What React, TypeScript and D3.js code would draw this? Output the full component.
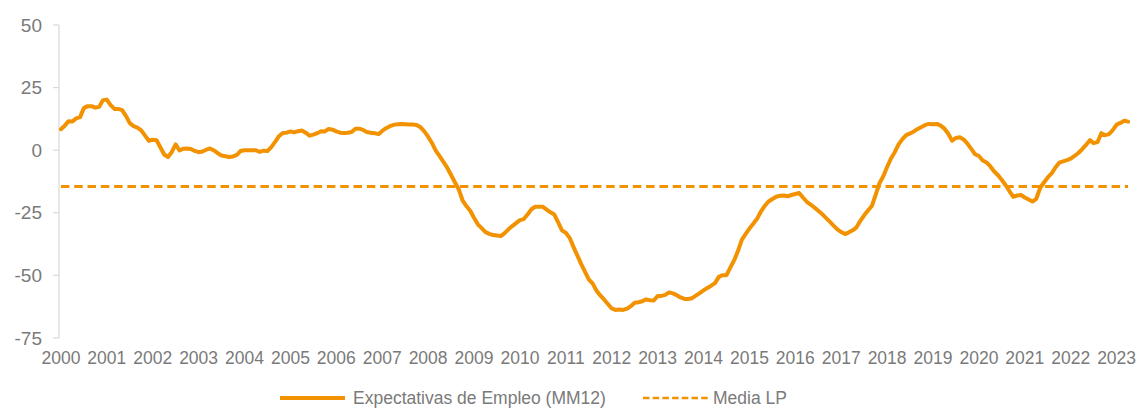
import React from "react";
import * as d3 from "d3";

const years: string[] = [
  "2000","2001","2002","2003","2004","2005","2006","2007","2008","2009","2010","2011",
  "2012","2013","2014","2015","2016","2017","2018","2019","2020","2021","2022","2023",
];

const yTicks: number[] = [50, 25, 0, -25, -50, -75];

// Expectativas de Empleo (MM12), monthly from Jan 2000 to Apr 2023
const v2000 = [8.4, 9.8, 11.6, 11.5, 12.7, 13.2, 16.8, 17.6, 17.6, 17, 17.3, 20];
const v2001 = [20.2, 18, 16.5, 16.5, 16, 13.7, 10.8, 9.6, 9, 7.9, 5.8, 3.7];
const v2002 = [4.2, 4, 1.2, -1.7, -2.7, -0.7, 2.3, -0.1, 0.6, 0.7, 0.5, -0.3];
const v2003 = [-0.8, -0.5, 0.2, 0.7, -0.1, -1.2, -2.1, -2.4, -2.7, -2.5, -1.9, -0.3];
const v2004 = [0, 0, 0, 0, -0.7, -0.2, -0.3, 1.2, 3.3, 5.6, 6.9, 7];
const v2005 = [7.5, 7.1, 7.6, 7.9, 7, 5.8, 6.2, 6.8, 7.6, 7.5, 8.5, 8.2];
const v2006 = [7.5, 7, 6.9, 7, 7.3, 8.6, 8.6, 8.1, 7.3, 7, 6.8, 6.4];
const v2007 = [7.7, 8.8, 9.6, 10.1, 10.4, 10.5, 10.4, 10.3, 10.3, 10.1, 9.2, 7.5];
const v2008 = [5.4, 2.9, -0.2, -2.4, -4.7, -7, -9.9, -12.8, -15.6, -20, -22.3, -24.2];
const v2009 = [-27, -29.6, -31.1, -32.7, -33.4, -33.9, -34.1, -34.3, -33.1, -31.6, -30.3, -29.1];
const v2010 = [-27.9, -27.5, -25.7, -23.6, -22.6, -22.6, -22.6, -23.7, -24.8, -25.7, -28.8, -32];
const v2011 = [-33, -35, -38.6, -42, -45.4, -48.5, -51.6, -53.2, -56, -58, -59.6, -61.4];
const v2012 = [-63.2, -63.8, -63.6, -63.8, -63.3, -62.3, -60.9, -60.7, -60.3, -59.6, -59.9, -60];
const v2013 = [-58.2, -58.2, -57.8, -56.8, -57.2, -57.9, -58.8, -59.4, -59.4, -59.1, -58.1, -57.1];
const v2014 = [-56, -55, -54.1, -53.1, -50.6, -49.9, -49.9, -46.9, -44, -40.3, -35.8, -33.5];
const v2015 = [-31.3, -29.4, -27.4, -24.5, -22.2, -20.5, -19.5, -18.6, -18.2, -18.1, -18.4, -17.9];
const v2016 = [-17.5, -17.1, -18.9, -20.6, -21.7, -22.9, -24.2, -25.5, -27, -28.5, -30.1, -31.6];
const v2017 = [-32.7, -33.5, -32.8, -32, -30.8, -28.2, -26, -24.1, -22.3, -17.8, -13.2, -10.4];
const v2018 = [-6.7, -3.3, -0.8, 2.3, 4.4, 6, 6.7, 7.5, 8.5, 9.3, 10.1, 10.5];
const v2019 = [10.4, 10.5, 9.8, 8.6, 6.6, 3.8, 4.9, 5.2, 4.3, 2.6, 0.5, -1.6];
const v2020 = [-2.3, -4.1, -4.9, -6.5, -8.5, -10, -11.9, -14, -16.4, -18.6, -18.1, -17.9];
const v2021 = [-18.9, -19.7, -20.5, -19.4, -15.1, -12.9, -10.9, -9.3, -6.9, -5, -4.5, -4];
const v2022 = [-3.4, -2.3, -1.1, 0.4, 2.1, 4, 2.8, 3.2, 6.8, 6, 6.4, 8];
const v2023 = [10.2, 10.9, 11.8, 11.4];

const expectativas: number[] = [
  ...v2000, ...v2001, ...v2002, ...v2003, ...v2004, ...v2005, ...v2006, ...v2007,
  ...v2008, ...v2009, ...v2010, ...v2011, ...v2012, ...v2013, ...v2014, ...v2015,
  ...v2016, ...v2017, ...v2018, ...v2019, ...v2020, ...v2021, ...v2022, ...v2023,
];

const mediaLP = -14.5;

const seriesName = "Expectativas de Empleo (MM12)";
const mediaName = "Media LP";

const W = 1141;
const H = 408;
const ORANGE = "#F39200";
const TEXT = "#7A7A7A";
const AXIS = "#D9D9D9";
const FONT = "'Liberation Sans', Arial, sans-serif";

export default function App() {
  const n = expectativas.length;
  const plotLeft = 59;
  const plotRight = 1130;
  const x = d3.scaleLinear().domain([-0.5, n - 0.5]).range([plotLeft, plotRight]);
  const y = d3.scaleLinear().domain([-75, 50]).range([338, 25]);

  const line = d3
    .line<number>()
    .x((_, i) => x(i))
    .y((d) => y(d));

  const legendY = 398;

  return (
    <svg
      width={W}
      height={H}
      style={{ position: "absolute", left: 0, top: 0, background: "#fff" }}
      fontFamily={FONT}
    >
      {/* y axis */}
      <line x1={plotLeft} x2={plotLeft} y1={y(50)} y2={y(-75)} stroke={AXIS} strokeWidth={1.2} />
      {yTicks.map((t) => (
        <g key={t}>
          <line x1={plotLeft - 6} x2={plotLeft} y1={y(t)} y2={y(t)} stroke={AXIS} strokeWidth={1.2} />
          <text
            x={42}
            y={y(t)}
            textAnchor="end"
            dominantBaseline="central"
            fontSize={19}
            fill={TEXT}
          >
            {t}
          </text>
        </g>
      ))}

      {/* x labels */}
      {years.map((yr, k) => (
        <text
          key={yr}
          x={x(k * 12)}
          y={364}
          textAnchor="middle"
          fontSize={17.5}
          fill={TEXT}
        >
          {yr}
        </text>
      ))}

      {/* media LP */}
      <line
        x1={x(0)}
        x2={x(n - 1)}
        y1={y(mediaLP)}
        y2={y(mediaLP)}
        stroke={ORANGE}
        strokeWidth={3}
        strokeDasharray="8.5,4.8"
      />

      {/* main series */}
      <path
        d={line(expectativas) || ""}
        fill="none"
        stroke={ORANGE}
        strokeWidth={4}
        strokeLinejoin="round"
        strokeLinecap="round"
      />

      {/* legend */}
      <line x1={280} x2={345} y1={legendY} y2={legendY} stroke={ORANGE} strokeWidth={4} />
      <text x={353} y={legendY} dominantBaseline="central" fontSize={17.5} fill={TEXT}>
        {seriesName}
      </text>
      <line
        x1={643}
        x2={710}
        y1={legendY}
        y2={legendY}
        stroke={ORANGE}
        strokeWidth={2.5}
        strokeDasharray="6.5,3.2"
      />
      <text x={713} y={legendY} dominantBaseline="central" fontSize={17.5} fill={TEXT}>
        {mediaName}
      </text>
    </svg>
  );
}
